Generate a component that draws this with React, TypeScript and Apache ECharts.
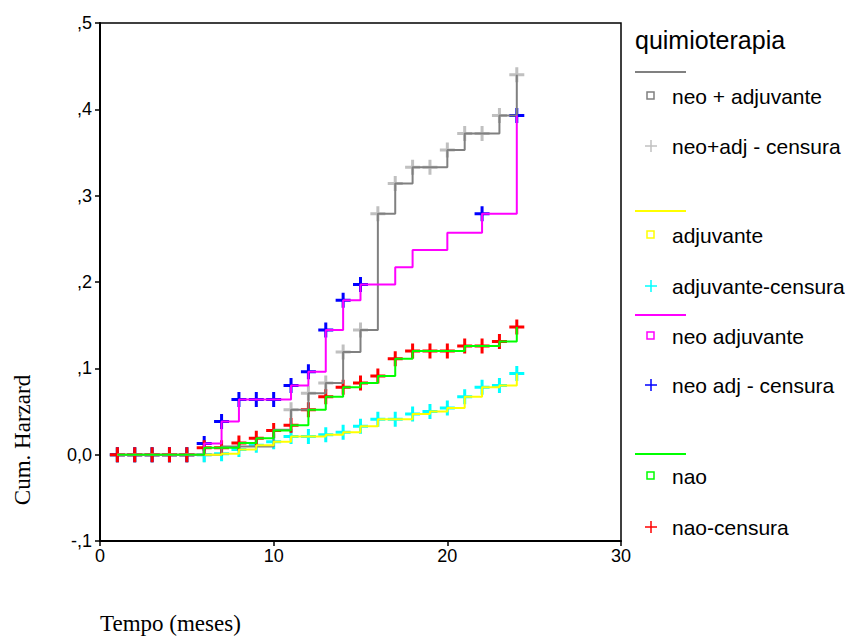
import React, { useEffect, useRef } from "react";
import * as echarts from "echarts";

// Months (x) and cumulative hazard (y) per group
const months = [1, 2, 3, 4, 5, 6, 7, 8, 9, 10, 11, 12, 13, 14, 15, 16, 17, 18, 19, 20, 21, 22, 23, 24];

const neoMaisAdj = [0, 0, 0, 0, 0, 0, 0.0096, 0.0096, 0.0096, 0.029, 0.052, 0.071, 0.083, 0.119, 0.1445, 0.279, 0.314, 0.333, 0.333, 0.353, 0.372, 0.372, 0.393, 0.44];
const neoMaisAdjCensura = [1, 2, 3, 4, 5, 6, 11, 12, 13, 14, 15, 16, 17, 18, 19, 20, 21, 22, 23, 24];

const adjuvante = [0, 0, 0, 0, 0, 0, 0.001, 0.006, 0.011, 0.015, 0.021, 0.021, 0.023, 0.026, 0.033, 0.041, 0.041, 0.047, 0.05, 0.054, 0.067, 0.078, 0.08, 0.094];
const adjuvanteCensura = [1, 2, 3, 4, 5, 6, 7, 8, 9, 10, 11, 12, 13, 14, 15, 16, 17, 18, 19, 20, 21, 22, 23, 24];

const neoAdjuvante = [0, 0, 0, 0, 0, 0.013, 0.0385, 0.064, 0.064, 0.064, 0.08, 0.096, 0.1445, 0.179, 0.197, 0.197, 0.217, 0.237, 0.237, 0.257, 0.257, 0.279, 0.279, 0.393];
const neoAdjCensura = [1, 2, 3, 4, 5, 6, 7, 8, 9, 10, 11, 12, 13, 14, 15, 22, 24];

const nao = [0, 0, 0, 0, 0, 0.008, 0.008, 0.0135, 0.019, 0.028, 0.034, 0.052, 0.067, 0.078, 0.083, 0.091, 0.111, 0.12, 0.12, 0.12, 0.126, 0.126, 0.131, 0.148];
const naoCensura = [1, 2, 3, 4, 5, 6, 7, 8, 9, 10, 11, 12, 13, 14, 15, 16, 17, 18, 19, 20, 21, 22, 23, 24];

const yTicks = [-0.1, 0, 0.1, 0.2, 0.3, 0.4, 0.5];
const xTicks = [0, 10, 20, 30];

const PLUS = "path://M0,5.6H5.6V0H8.4V5.6H14V8.4H8.4V14H5.6V8.4H0Z";

const groups = [
  { name: "neo + adjuvante", cname: "neo+adj - censura", values: neoMaisAdj, censor: neoMaisAdjCensura, line: "#808080", mark: "#c0c0c0" },
  { name: "adjuvante", cname: "adjuvante-censura", values: adjuvante, censor: adjuvanteCensura, line: "#ffff00", mark: "#00ffff" },
  { name: "neo adjuvante", cname: "neo adj - censura", values: neoAdjuvante, censor: neoAdjCensura, line: "#ff00ff", mark: "#0000ff" },
  { name: "nao", cname: "nao-censura", values: nao, censor: naoCensura, line: "#00ff00", mark: "#ff0000" },
];

function fmtY(v: number) {
  const k = Math.round(v * 10);
  if (k === 0) return "0,0";
  if (k < 0) return "-," + String(-k);
  return "," + String(k);
}

export default function App() {
  const ref = useRef<HTMLDivElement>(null);
  useEffect(() => {
    if (!ref.current) return;
    const chart = echarts.init(ref.current, undefined, { renderer: "svg" });
    const series: any[] = [];
    groups.forEach((g) => {
      series.push({
        name: g.name,
        type: "line",
        step: "end",
        showSymbol: false,
        symbol: "none",
        data: months.map((m, i) => [m, g.values[i]]),
        lineStyle: { color: g.line, width: 2 },
        itemStyle: { color: g.line },
        silent: true,
      });
      series.push({
        name: g.cname,
        type: "scatter",
        symbol: PLUS,
        symbolSize: 15,
        data: g.censor.map((m) => [m, g.values[months.indexOf(m)]]),
        itemStyle: { color: g.mark, opacity: 1 },
        silent: true,
      });
    });

    const LX = 635;
    const legendRows = [
      { lineY: 72, sqY: 96, plusY: 146, g: groups[0] },
      { lineY: 211, sqY: 235, plusY: 286, g: groups[1] },
      { lineY: 315, sqY: 336, plusY: 385, g: groups[2] },
      { lineY: 454, sqY: 476, plusY: 527, g: groups[3] },
    ];
    const graphic: any[] = [
      { type: "text", x: LX, y: 40, style: { text: "quimioterapia", font: "25px 'Liberation Sans', Arial, sans-serif", fill: "#000", verticalAlign: "middle" } },
      { type: "text", x: 22, y: 440, rotation: Math.PI / 2, style: { text: "Cum. Harzard", font: "23px 'Liberation Serif', 'Times New Roman', serif", fill: "#000", align: "center", verticalAlign: "middle" } },
      { type: "text", x: 100, y: 623, style: { text: "Tempo (meses)", font: "23px 'Liberation Serif', 'Times New Roman', serif", fill: "#000", align: "left", verticalAlign: "middle" } },
    ];
    legendRows.forEach((r) => {
      graphic.push({ type: "line", shape: { x1: LX, y1: r.lineY, x2: LX + 51, y2: r.lineY }, style: { stroke: r.g.line, lineWidth: 2 } });
      graphic.push({ type: "rect", shape: { x: LX + 12, y: r.sqY - 4, width: 7, height: 7 }, style: { fill: "none", stroke: r.g.line, lineWidth: 1.5 } });
      graphic.push({ type: "text", x: 672, y: r.sqY, style: { text: r.g.name, font: "21px 'Liberation Sans', Arial, sans-serif", fill: "#000", verticalAlign: "middle" } });
      graphic.push({ type: "line", shape: { x1: LX + 10, y1: r.plusY, x2: LX + 22, y2: r.plusY }, style: { stroke: r.g.mark, lineWidth: 1.5 } });
      graphic.push({ type: "line", shape: { x1: LX + 16, y1: r.plusY - 6, x2: LX + 16, y2: r.plusY + 6 }, style: { stroke: r.g.mark, lineWidth: 1.5 } });
      graphic.push({ type: "text", x: 672, y: r.plusY, style: { text: r.g.cname, font: "21px 'Liberation Sans', Arial, sans-serif", fill: "#000", verticalAlign: "middle" } });
    });

    chart.setOption({
      animation: false,
      backgroundColor: "#fff",
      grid: { left: 100, top: 23, right: 224, bottom: 98, show: true, borderColor: "#000", borderWidth: 1.5, backgroundColor: "transparent" },
      xAxis: {
        type: "value",
        min: xTicks[0],
        max: xTicks[xTicks.length - 1],
        interval: 10,
        axisLine: { show: true, onZero: false, lineStyle: { color: "#000", width: 2 } },
        axisTick: { show: true, length: 5, lineStyle: { color: "#000", width: 1.5 } },
        axisLabel: { color: "#000", fontSize: 18, fontFamily: "'Liberation Sans', Arial, sans-serif", margin: 6 },
        splitLine: { show: false },
      },
      yAxis: {
        type: "value",
        min: yTicks[0],
        max: yTicks[yTicks.length - 1],
        interval: 0.1,
        axisLine: { show: true, lineStyle: { color: "#000", width: 2 } },
        axisTick: { show: true, length: 5, lineStyle: { color: "#000", width: 1.5 } },
        axisLabel: { color: "#000", fontSize: 18, fontFamily: "'Liberation Sans', Arial, sans-serif", margin: 8, formatter: fmtY },
        splitLine: { show: false },
      },
      series,
      graphic,
    });
    return () => chart.dispose();
  }, []);
  return <div ref={ref} style={{ width: 845, height: 639, position: "absolute", left: 0, top: 0 }} />;
}
